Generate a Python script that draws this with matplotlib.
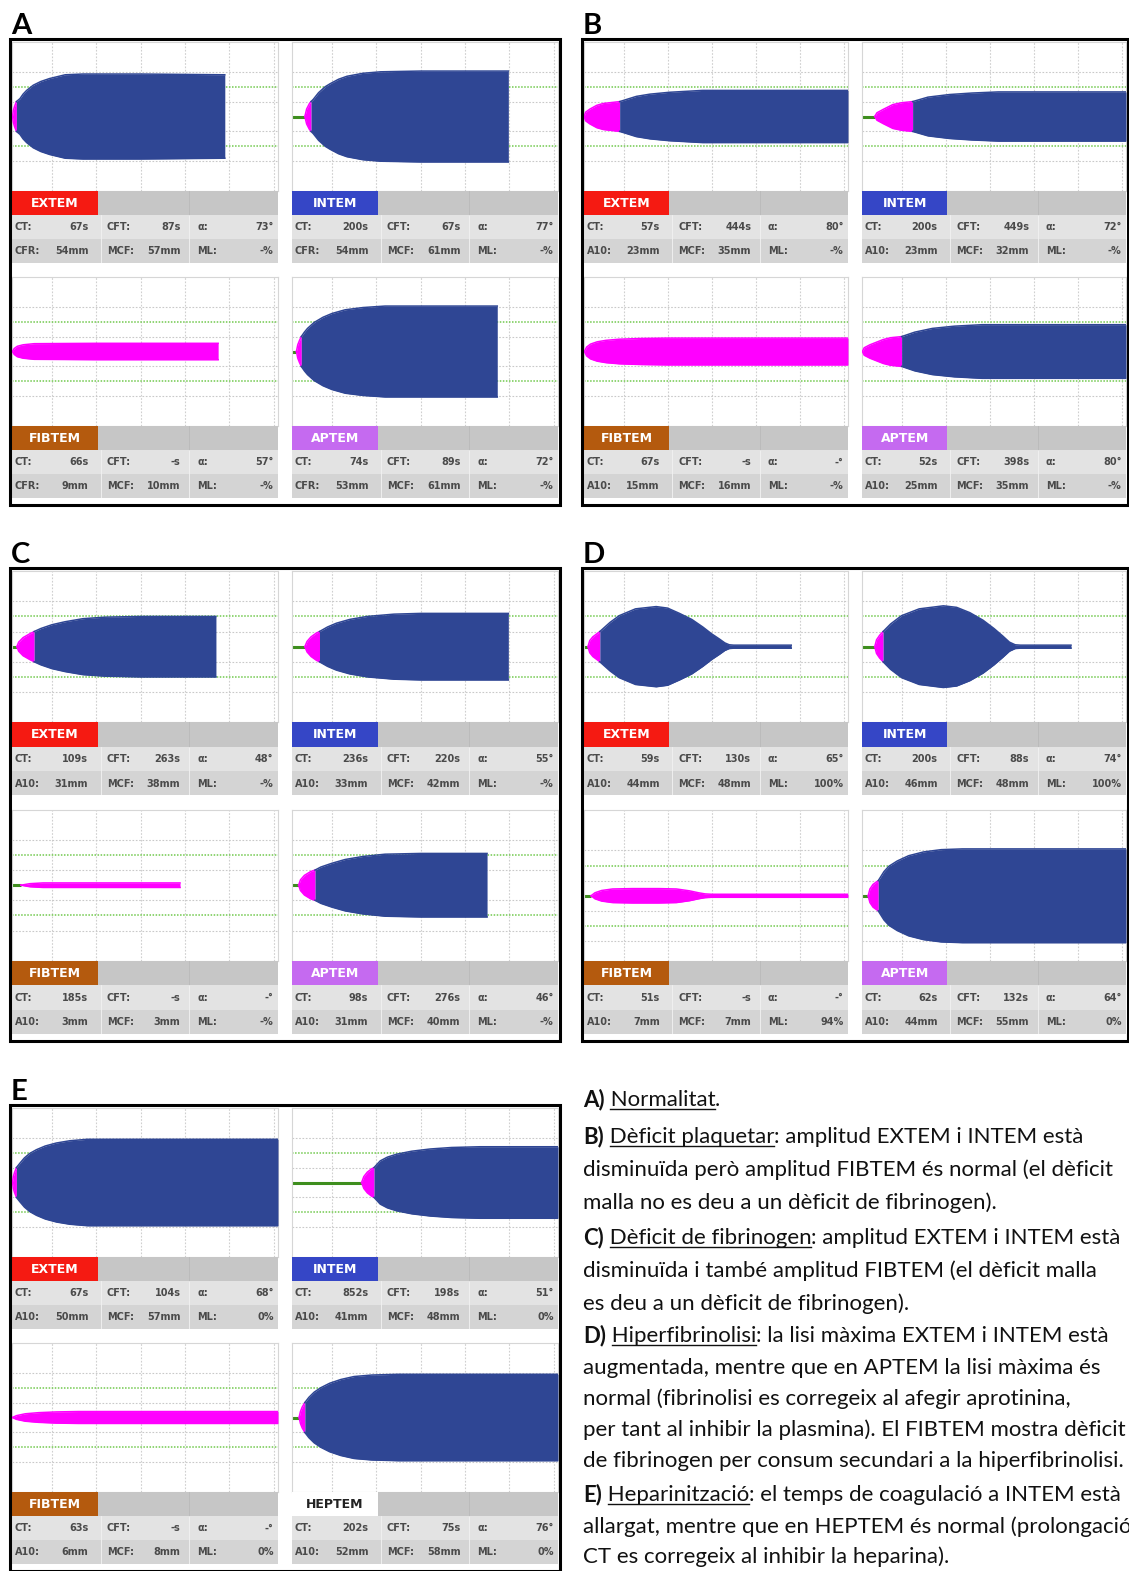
import numpy as np
import matplotlib
matplotlib.use("Agg")
import matplotlib.pyplot as plt
from matplotlib.patches import Rectangle
from matplotlib.lines import Line2D

W, H = 1129, 1571

# ROTEM traces: (time in min, clot amplitude in mm)
A_EXTEM = [(1.1, 0), (1.3, 8), (1.6, 14), (2.0, 20), (2.8, 24), (3.5, 30), (4.3, 35), (5.8, 42),
           (7.5, 47), (9.5, 51), (13, 56), (17, 57), (30, 57), (49, 56)]
A_INTEM = [(3.9, 0), (4.3, 10), (4.9, 17), (5.3, 20), (5.8, 23), (7, 32), (8.5, 40), (9.6, 44),
           (11.5, 50), (13.4, 54), (17, 58), (21, 60), (30, 61), (49.8, 61)]
A_FIBTEM = [(1.1, 0), (1.5, 4), (2.2, 7), (3.5, 9), (6, 10.5), (20, 11), (47.5, 11)]
A_APTEM = [(2.0, 0), (2.3, 9), (2.7, 15), (3.1, 20), (3.8, 26), (4.5, 31), (6, 39), (8, 46),
           (10, 51), (13, 56), (17, 59), (22, 61), (47.3, 61)]

B_EXTEM = [(1.0, 0), (1.4, 6), (2.35, 10), (3.9, 15), (5.4, 17.5), (9.1, 20), (12.9, 27),
           (16, 30), (20.4, 32.5), (27.9, 35), (61, 35)]
B_INTEM = [(3.9, 0), (4.4, 5), (5.8, 9.5), (8, 16), (10, 18.5), (12.5, 20), (16, 26),
           (20.9, 29.5), (26, 31.5), (32, 33), (61, 33)]
B_FIBTEM = [(1.1, 0), (1.6, 6), (2.5, 10), (4, 13), (6, 15), (9, 16.5), (14, 17.5), (20, 18), (61, 18)]
B_APTEM = [(1.1, 0), (1.5, 5), (2.8, 9), (5.8, 16), (7.5, 18.5), (10, 20), (13, 26), (17, 31),
           (22, 34), (28.3, 36), (61, 36)]

C_EXTEM = [(2.1, 0), (2.5, 6), (3.5, 12), (5, 17), (6, 20), (7.5, 24), (10, 29), (13, 33),
           (17, 37), (22, 39), (30, 40), (47, 40)]
C_INTEM = [(3.9, 0), (4.4, 7), (5.3, 13), (6.5, 18), (7.2, 20), (9, 26), (11, 31), (14, 36),
           (18, 40), (24, 43), (30, 44), (49.8, 44)]
C_FIBTEM = [(3.0, 0), (5, 2), (8, 3), (38.9, 3)]
C_APTEM = [(2.5, 0), (2.9, 7), (3.8, 13), (5.2, 18), (6.2, 20), (7.5, 24), (10, 29), (13, 34),
           (17, 38), (22, 41), (30, 42), (45, 42)]

D_EXTEM = [(1.9, 0), (2.3, 8), (3.0, 13), (4.6, 20), (6.9, 32), (9.0, 41), (12.7, 50), (17.4, 53),
           (20, 51), (22.7, 44), (25.5, 36), (28, 26), (30, 17), (31.8, 10), (33, 5), (34, 2.5),
           (35, 2), (48.1, 2)]
D_INTEM = [(3.9, 0), (4.3, 9), (5.0, 15), (5.8, 20), (7.5, 30), (10, 41), (14, 50), (19.5, 54),
           (22.5, 52), (25.5, 45), (28.5, 35), (31, 24), (33, 14), (34.5, 6), (35.8, 2.5),
           (37, 2), (48.5, 2)]
D_FIBTEM = [(2.6, 0), (3.5, 4), (5, 7), (7.5, 9), (12, 9.5), (18, 9.5), (22, 9), (25, 6.5),
            (27, 4), (28.5, 2.5), (30, 2), (61, 2)]
D_APTEM = [(2.4, 0), (2.8, 9), (3.5, 15), (4.7, 20), (6, 32), (7.1, 39), (9, 46), (11.6, 53),
           (15, 58), (19, 61), (23.8, 62), (61, 62)]

E_EXTEM = [(1.1, 0), (1.3, 8), (1.6, 14), (2.0, 20), (2.8, 26), (3.8, 33), (5, 39), (6.5, 44),
           (8.5, 49), (11, 53), (14, 56), (18, 58), (61, 58)]
E_INTEM = [(16.7, 0), (17.2, 8), (18, 14), (19, 18.5), (19.5, 20), (20.9, 29), (22.5, 34),
           (24.6, 38), (28, 42), (32.2, 45), (37, 47), (43.4, 48), (61, 48)]
E_FIBTEM = [(1.1, 0), (2, 2.5), (4, 5), (7, 6.5), (11, 7.5), (16, 8), (61, 8)]
E_HEPTEM = [(2.6, 0), (2.9, 8), (3.3, 14), (3.9, 20), (4.8, 27), (6, 34), (7.5, 40), (9.5, 46),
            (12, 51), (15, 55), (19, 57), (25, 58), (61, 58)]

TESTS_ABCD = ["EXTEM", "INTEM", "FIBTEM", "APTEM"]
TESTS_E = ["EXTEM", "INTEM", "FIBTEM", "HEPTEM"]

# CT, CFT, alpha, A10 (CFR), MCF, ML for each tile
A_VALUES = [("67s", "87s", "73°", "54mm", "57mm", "-%"),
            ("200s", "67s", "77°", "54mm", "61mm", "-%"),
            ("66s", "-s", "57°", "9mm", "10mm", "-%"),
            ("74s", "89s", "72°", "53mm", "61mm", "-%")]
B_VALUES = [("57s", "444s", "80°", "23mm", "35mm", "-%"),
            ("200s", "449s", "72°", "23mm", "32mm", "-%"),
            ("67s", "-s", "-°", "15mm", "16mm", "-%"),
            ("52s", "398s", "80°", "25mm", "35mm", "-%")]
C_VALUES = [("109s", "263s", "48°", "31mm", "38mm", "-%"),
            ("236s", "220s", "55°", "33mm", "42mm", "-%"),
            ("185s", "-s", "-°", "3mm", "3mm", "-%"),
            ("98s", "276s", "46°", "31mm", "40mm", "-%")]
D_VALUES = [("59s", "130s", "65°", "44mm", "48mm", "100%"),
            ("200s", "88s", "74°", "46mm", "48mm", "100%"),
            ("51s", "-s", "-°", "7mm", "7mm", "94%"),
            ("62s", "132s", "64°", "44mm", "55mm", "0%")]
E_VALUES = [("67s", "104s", "68°", "50mm", "57mm", "0%"),
            ("852s", "198s", "51°", "41mm", "48mm", "0%"),
            ("63s", "-s", "-°", "6mm", "8mm", "0%"),
            ("202s", "75s", "76°", "52mm", "58mm", "0%")]

# caption: (text, style) runs, b = bold, u = underlined
CAPTION = [
    [("A)", "b"), (" Normalitat", "u"), (".", "")],
    [("B)", "b"), (" Dèficit plaquetar", "u"), (": amplitud EXTEM i INTEM està", "")],
    [("disminuïda però amplitud FIBTEM és normal (el dèficit", "")],
    [("malla no es deu a un dèficit de fibrinogen).", "")],
    [("C)", "b"), (" Dèficit de fibrinogen", "u"), (": amplitud EXTEM i INTEM està", "")],
    [("disminuïda i també amplitud FIBTEM (el dèficit malla", "")],
    [("es deu a un dèficit de fibrinogen).", "")],
    [("D)", "b"), (" Hiperfibrinolisi", "u"), (": la lisi màxima EXTEM i INTEM està", "")],
    [("augmentada, mentre que en APTEM la lisi màxima és", "")],
    [("normal (fibrinolisi es corregeix al afegir aprotinina,", "")],
    [("per tant al inhibir la plasmina). El FIBTEM mostra dèficit", "")],
    [("de fibrinogen per consum secundari a la hiperfibrinolisi.", "")],
    [("E)", "b"), (" Heparinització", "u"), (": el temps de coagulació a INTEM està", "")],
    [("allargat, mentre que en HEPTEM és normal (prolongació", "")],
    [("CT es corregeix al inhibir la heparina).", "")],
]
CAPTION_BASELINES = [1106, 1143, 1176, 1209, 1244, 1277, 1310, 1342, 1374, 1405, 1436, 1467,
                     1501, 1533, 1563]

BLUE = "#2f4694"
MAGENTA = "#ff00ff"
GREEN = "#3e8e1e"
TEST_COLORS = {"EXTEM": "#f51a12", "INTEM": "#3546c6", "FIBTEM": "#b45a0e",
               "APTEM": "#c56af0", "HEPTEM": "#ffffff"}
TABLE_FONT = ["DejaVu Sans"]
TEXT_FONT = ["Lato", "DejaVu Sans"]

fig = plt.figure(figsize=(W / 100, H / 100), dpi=100)
fig.patch.set_facecolor("white")


def px_axes(x, y, w, h):
    return fig.add_axes([x / W, 1 - (y + h) / H, w / W, h / H])


def draw_trace(ax, pts, shift=0):
    t = np.array([p[0] for p in pts], float)
    amp = np.array([p[1] for p in pts], float)
    half = amp / 2
    ax.set_xlim(1, 61)
    ax.set_ylim(-50 + shift, 50 + shift)
    ax.set_xticks([])
    ax.set_yticks([])
    for s in ax.spines.values():
        s.set_color("#d6d6d6")
        s.set_linewidth(0.8)
    for gx in range(10, 61, 10):
        ax.axvline(gx, color="#cfcfcf", lw=0.8, ls=(0, (1.5, 1.5)), zorder=0)
    for gy in (-30, -10, 10, 30):
        ax.axhline(gy, color="#c9c9c9", lw=0.8, ls=(0, (1.5, 1.5)), zorder=0)
    for gy in (-20, 20):
        ax.axhline(gy, color="#72c94e", lw=1.1, ls=(0, (1, 1)), zorder=0)

    # baseline before clotting starts
    ax.plot([1, t[0]], [0, 0], color=GREEN, lw=2.2, solid_capstyle="butt", zorder=2)

    hit = np.nonzero(amp >= 20)[0]
    parts = []
    if len(hit):
        k = hit[0]
        parts.append((slice(0, k + 1), MAGENTA))
        parts.append((slice(k, None), BLUE))
    else:
        parts.append((slice(0, None), MAGENTA))
    for sl, c in parts:
        ax.fill_between(t[sl], -half[sl], half[sl], color=c, lw=0, zorder=3)
        ax.plot(t[sl], half[sl], color=c, lw=1.1, zorder=3, solid_joinstyle="round")
        ax.plot(t[sl], -half[sl], color=c, lw=1.1, zorder=3, solid_joinstyle="round")


def draw_table(ax, test, vals, amp_label):
    ax.set_xlim(0, 3)
    ax.set_ylim(3, 0)
    ax.axis("off")
    ax.add_patch(Rectangle((0, 0), 3, 1, color="#c6c6c6", lw=0))
    box = TEST_COLORS[test]
    ax.add_patch(Rectangle((0, 0), 0.97, 1, facecolor=box, lw=0))
    txt_c = "#222222" if test == "HEPTEM" else "white"
    ax.text(0.485, 0.52, test, ha="center", va="center", color=txt_c, fontweight="bold",
            fontsize=9, family=TABLE_FONT)
    ax.add_patch(Rectangle((0, 1), 3, 1, color="#e3e3e3", lw=0))
    ax.add_patch(Rectangle((0, 2), 3, 1, color="#d4d4d4", lw=0))
    ax.plot([2, 2], [0, 1], color="#b9b9b9", lw=0.6)
    for g in (1, 2):
        ax.plot([g, g], [1, 3], color="#f2f2f2", lw=0.6)
    labels = [["CT:", "CFT:", "α:"], [amp_label, "MCF:", "ML:"]]
    lab_x = [0.03, 0.07, 0.09]
    val_x = [0.86, 0.90, 0.95]
    for r in range(2):
        for g in range(3):
            ax.text(g + lab_x[g], 1.52 + r, labels[r][g], ha="left", va="center",
                    fontsize=7, color="#4a4a4a", fontweight="bold", family=TABLE_FONT)
            ax.text(g + val_x[g], 1.52 + r, vals[g + 3 * r], ha="right", va="center",
                    fontsize=7, color="#4a4a4a", fontweight="bold", family=TABLE_FONT)


def draw_panel(letter, left, top, right, bottom, tests, traces, values, amp_label,
               lower_shift=0):
    s = (bottom - top) / 466
    tile_w = (right - left - 18) / 2
    xs = [left + 2, left + 2 + tile_w + 14]
    ys = [top + 3 * s, top + 238 * s]
    plot_h = 149 * s
    for i in range(4):
        x0 = xs[i % 2]
        y0 = ys[i // 2]
        shift = lower_shift if i >= 2 else 0
        draw_trace(px_axes(x0, y0, tile_w, plot_h), traces[i], shift)
        draw_table(px_axes(x0, y0 + plot_h, tile_w, 72 * s), tests[i], values[i], amp_label)
    fig.add_artist(Rectangle((left / W, 1 - bottom / H), (right - left) / W, (bottom - top) / H,
                             transform=fig.transFigure, fill=False, lw=2.2, ec="black",
                             zorder=10))
    fig.text((left + 1) / W, 1 - (top - 5) / H, letter, fontsize=21, fontweight="bold",
             family=TEXT_FONT, va="baseline", ha="left")


draw_panel("A", 10, 39, 560, 505, TESTS_ABCD, [A_EXTEM, A_INTEM, A_FIBTEM, A_APTEM], A_VALUES, "CFR:")
draw_panel("B", 582, 39, 1128, 505, TESTS_ABCD, [B_EXTEM, B_INTEM, B_FIBTEM, B_APTEM], B_VALUES, "A10:")
draw_panel("C", 10, 568, 560, 1041, TESTS_ABCD, [C_EXTEM, C_INTEM, C_FIBTEM, C_APTEM], C_VALUES, "A10:")
draw_panel("D", 582, 568, 1128, 1041, TESTS_ABCD, [D_EXTEM, D_INTEM, D_FIBTEM, D_APTEM], D_VALUES, "A10:",
           lower_shift=7)
draw_panel("E", 10, 1105, 560, 1571, TESTS_E, [E_EXTEM, E_INTEM, E_FIBTEM, E_HEPTEM], E_VALUES, "A10:")

# caption with bold letters and underlined headings
renderer = fig.canvas.get_renderer()
CAP_SIZE = 16
for runs, base in zip(CAPTION, CAPTION_BASELINES):
    x = 583
    for text, style in runs:
        t = fig.text(x / W, 1 - base / H, text, fontsize=CAP_SIZE, family=TEXT_FONT,
                     fontweight="bold" if style == "b" else "normal", va="baseline",
                     ha="left", color="#111111")
        bb = t.get_window_extent(renderer)
        if style == "u":
            probe = fig.text(0, 0, text.strip(), fontsize=CAP_SIZE, family=TEXT_FONT)
            w = probe.get_window_extent(renderer).width
            probe.remove()
            uy = 1 - (base + 3) / H
            fig.add_artist(Line2D([(bb.x1 - w) / W, bb.x1 / W], [uy, uy], color="#111111",
                                  lw=1.0, transform=fig.transFigure))
        x += bb.width

fig.savefig("out.png", dpi=100)
